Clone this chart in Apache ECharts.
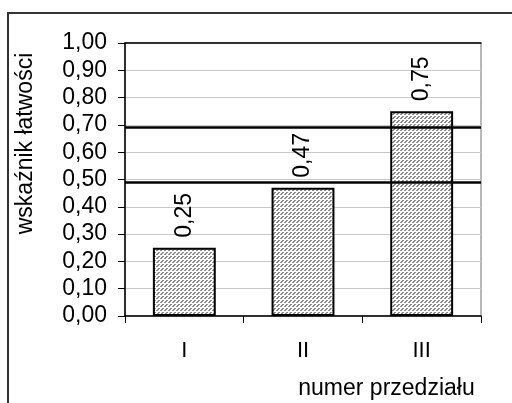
<!DOCTYPE html>
<html>
<head>
<meta charset="utf-8">
<script src="https://cdn.jsdelivr.net/npm/echarts@6/dist/echarts.min.js"></script>
<style>
html,body{margin:0;padding:0;background:#fff;}
#c{width:512px;height:403px;}
</style>
</head>
<body>
<div id="c"></div>
<script>
var categories = ['I', 'II', 'III'];
var values = [0.25, 0.47, 0.75];
var thresholds = [0.69, 0.495];
var yTitle = 'wskaźnik łatwości';
var xTitle = 'numer przedziału';

function makePattern() {
  var cv = document.createElement('canvas');
  cv.width = 4; cv.height = 4;
  var ctx = cv.getContext('2d');
  ctx.fillStyle = '#ffffff';
  ctx.fillRect(0, 0, 4, 4);
  ctx.fillStyle = '#8c8c8c';
  var px = [[2,0],[3,0],[1,1],[2,1],[0,2],[1,2]];
  px.forEach(function (p) { ctx.fillRect(p[0], p[1], 1, 1); });
  return cv;
}

var chart = echarts.init(document.getElementById('c'), null, {renderer: 'canvas'});
var font = 'Arial, "Liberation Sans", sans-serif';
var fmt = function (v) { return v.toFixed(2).replace('.', ','); };

chart.setOption({
  animation: false,
  backgroundColor: '#ffffff',
  textStyle: {fontFamily: font},
  grid: {left: 125, right: 31, top: 43, bottom: 87, show: true, borderColor: '#707070', borderWidth: 1, backgroundColor: 'transparent'},
  xAxis: [{
    type: 'category',
    data: categories,
    boundaryGap: true,
    axisLine: {lineStyle: {color: '#000', width: 1.5}},
    axisTick: {show: true, length: 7, lineStyle: {color: '#000'}},
    axisLabel: {fontSize: 22, color: '#000', margin: 24, fontFamily: font}
  }, {
    type: 'category',
    data: categories,
    position: 'top',
    axisLine: {lineStyle: {color: '#000', width: 1.5}},
    axisTick: {show: false},
    axisLabel: {show: false}
  }],
  yAxis: {
    type: 'value',
    min: 0, max: 1, interval: 0.1,
    axisLine: {show: true, lineStyle: {color: '#000', width: 1.5}},
    axisTick: {show: true, length: 7, lineStyle: {color: '#000'}},
    axisLabel: {fontSize: 23, color: '#000', margin: 18, fontFamily: font, formatter: fmt},
    splitLine: {lineStyle: {color: '#c8c8c8', width: 1}}
  },
  series: [{
    type: 'bar',
    data: values,
    barWidth: '53%',
    itemStyle: {color: {image: makePattern(), repeat: 'repeat'}, borderColor: '#000', borderWidth: 2},
    label: {
      show: true, position: 'top', rotate: 90, align: 'left', verticalAlign: 'middle',
      distance: 10, fontSize: 23, color: '#000', fontFamily: font,
      formatter: function (p) { return fmt(p.value); }
    },
    markLine: {
      silent: true, symbol: 'none',
      label: {show: false},
      lineStyle: {color: '#000', width: 2.5, type: 'solid'},
      data: thresholds.map(function (t) { return {yAxis: t}; })
    }
  }],
  graphic: [
    {type: 'rect', shape: {x: 8, y: 13, width: 700, height: 600}, style: {fill: 'none', stroke: '#333', lineWidth: 2}, silent: true, z: 100},
    {type: 'text', x: 25.5, y: 143.5, rotation: Math.PI / 2,
     style: {text: yTitle, fontSize: 23, fontFamily: font, fill: '#000', align: 'center', verticalAlign: 'middle'}},
    {type: 'text', x: 386.5, y: 389, 
     style: {text: xTitle, fontSize: 23, fontFamily: font, fill: '#000', align: 'center', verticalAlign: 'middle'}}
  ]
});
</script>
</body>
</html>
